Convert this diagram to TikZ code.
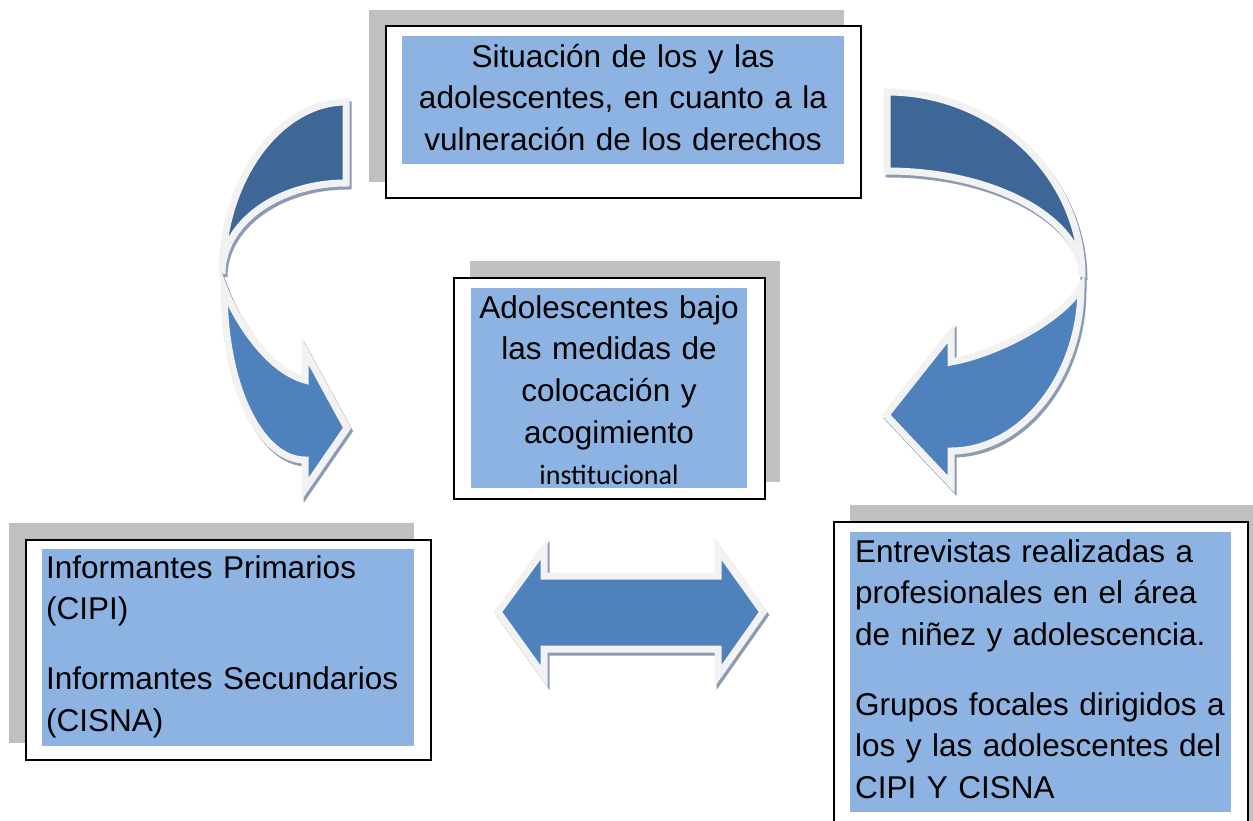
\documentclass[tikz,border=0pt]{standalone}
\usepackage{fontspec}
\setmainfont{Liberation Sans}
\newfontfamily\calibrifont{Carlito}
\definecolor{boxblue}{HTML}{8DB3E2}
\definecolor{shadowgray}{HTML}{C0C0C0}
\definecolor{arrowlight}{HTML}{4F81BD}
\definecolor{arrowdark}{HTML}{3E6797}
\definecolor{arrowedge}{HTML}{F2F2F2}
\definecolor{arrowshadow}{HTML}{8C9BB3}
\begin{document}
\begin{tikzpicture}[x=1pt,y=-1pt,
  framebox/.style={draw=black,line width=2pt,fill=white,inner sep=0pt,anchor=north west},
  txt/.style={font=\fontsize{31.5}{41.7}\selectfont, inner sep=0pt},
  arrowpart/.style={draw=arrowedge,line width=7pt,line join=miter},
  shadowpart/.style={draw=arrowshadow,fill=arrowshadow,line width=7pt,line join=miter,shift={(2,3)}},
  leftdark/.style={insert path={(346,102) .. controls (279,102) and (222,180) .. (222,274) .. controls (222,223) and (278,183) .. (346,183) -- cycle}},
  leftlight/.style={insert path={(224,288) .. controls (224,390) and (262,460) .. (305,460) -- (305,489) -- (347,428) -- (305,351) -- (305,380) .. controls (268,370) and (236,320) .. (224,288) -- cycle}},
  rightdark/.style={insert path={(887,92) .. controls (994,92) and (1082,175) .. (1082,277) .. controls (1082,219) and (994,171) .. (887,171) -- cycle}},
  rightlight/.style={insert path={(1081,287) .. controls (1081,377) and (1021,451) .. (951,451) -- (951,484) -- (886,415) -- (951,333) -- (951,362) .. controls (1000,353) and (1063,318) .. (1081,287) -- cycle}},
  doublearrow/.style={insert path={(498,612) -- (544,549) -- (544,576) -- (718,576) -- (718,549) -- (763,612) -- (718,676) -- (718,649) -- (544,649) -- (544,676) -- cycle}},
]
\useasboundingbox (0,0) rectangle (1253,820);
\clip (0,0) rectangle (1253,820);

% ---------- top box ----------
\fill[shadowgray] (369,10) rectangle (844,182);
\node[framebox, minimum width=475pt, minimum height=172pt] (topbox) at (385,25) {};
\fill[boxblue] (402,36) rectangle (844,164);
\node[txt, text width=440pt, align=center, anchor=base] (toptext) at (623,67)
  {Situación de los y las\\adolescentes, en cuanto a la\\vulneración de los derechos};

% ---------- middle box ----------
\fill[shadowgray] (470,261) rectangle (780,482);
\node[framebox, minimum width=311pt, minimum height=221pt] (midbox) at (453,277) {};
\fill[boxblue] (471,288) rectangle (747,488);
\node[txt, text width=276pt, align=center, anchor=base] (midtext) at (609,318)
  {Adolescentes bajo\\las medidas de\\colocación y\\acogimiento\\{\calibrifont\fontsize{28}{41.7}\selectfont institucional}};

% ---------- left box ----------
\fill[shadowgray] (9,523) rectangle (414,743);
\node[framebox, minimum width=405pt, minimum height=220pt] (leftbox) at (25,539) {};
\fill[boxblue] (42,549) rectangle (414,746);
\node[txt, text width=368pt, align=left, anchor=base west] (lefttext) at (46,578)
  {Informantes Primarios\\(CIPI)\\[28pt]Informantes Secundarios\\(CISNA)};

% ---------- right box ----------
\fill[shadowgray] (850,505) rectangle (1270,830);
\node[framebox, minimum width=414pt, minimum height=330pt] (rightbox) at (833,521) {};
\fill[boxblue] (850,532) rectangle (1231,812);
\node[txt, text width=376pt, align=left, anchor=base west] (righttext) at (855,562)
  {Entrevistas realizadas a\\profesionales en el área\\de niñez y adolescencia.\\[28pt]Grupos focales dirigidos a\\los y las adolescentes del\\CIPI Y CISNA};

% ---------- left curved arrow ----------
\path[shadowpart, leftdark];
\path[arrowpart, fill=arrowdark, leftdark];
\path[shadowpart, leftlight];
\path[arrowpart, fill=arrowlight, leftlight];

% ---------- right curved arrow ----------
\path[shadowpart, rightdark];
\path[arrowpart, fill=arrowdark, rightdark];
\path[shadowpart, rightlight];
\path[arrowpart, fill=arrowlight, rightlight];

% ---------- double arrow ----------
\path[shadowpart, doublearrow];
\path[arrowpart, fill=arrowlight, doublearrow];
\end{tikzpicture}
\end{document}
